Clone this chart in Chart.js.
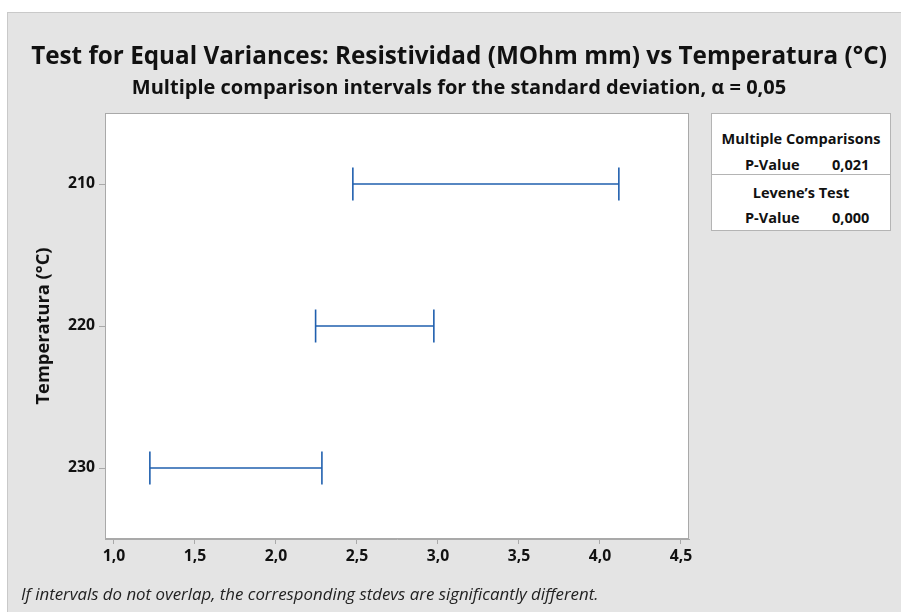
<!DOCTYPE html>
<html>
<head>
<meta charset="utf-8">
<script src="https://cdn.jsdelivr.net/npm/chart.js@4"></script>
<style>
  html, body { margin: 0; padding: 0; background: #fff; }
  body { width: 901px; height: 612px; position: relative; overflow: hidden; font-family: "Open Sans", sans-serif; }
  #panel { position: absolute; left: 7px; top: 12px; width: 894px; height: 600px; background: #e4e4e4;
           box-shadow: inset 1px 1px 0 #c9c9c9; }
  #chart { position: absolute; left: 0; top: 0; }
  #stats { position: absolute; left: 704px; top: 101px; width: 178px; height: 116px; background: #fff;
           border: 1px solid #b4b4b4; color: #111; font-weight: bold; }
  #stats .row { position: absolute; left: 0; width: 100%; text-align: center; white-space: nowrap; }
  #stats .sep { position: absolute; left: 0; width: 100%; height: 1px; background: #b4b4b4; }
  #stats .lbl, #stats .val { position: absolute; white-space: nowrap; }
  #note { position: absolute; left: 14px; font-style: italic; color: #222; white-space: nowrap; }
</style>
</head>
<body>
<div id="panel">
  <canvas id="chart" width="894" height="600"></canvas>
  <div id="stats"></div>
  <div id="note"></div>
</div>
<script>
// Test for equal variances: Bonferroni intervals of the stdev per temperature.
const TITLE = 'Test for Equal Variances: Resistividad (MOhm mm) vs Temperatura (°C)';
const SUBTITLE = 'Multiple comparison intervals for the standard deviation, α = 0,05';
const Y_TITLE = 'Temperatura (°C)';
const NOTE = 'If intervals do not overlap, the corresponding stdevs are significantly different.';

const temperatures = ['210', '220', '230'];
const lowerBounds = [2.475, 2.245, 1.222];
const upperBounds = [4.117, 2.975, 2.284];
const xTicks = [1.0, 1.5, 2.0, 2.5, 3.0, 3.5, 4.0, 4.5];

const statHeaders = ['Multiple Comparisons', 'Levene’s Test'];
const statLabels = ['P-Value', 'P-Value'];
const statValues = ['0,021', '0,000'];

const FAMILY = '"Open Sans", sans-serif';
const BLUE = '#1f5fae';
const AXIS_GREY = '#a9a9a9';

const measureCtx = document.createElement('canvas').getContext('2d');
function fitSize(text, style, target) {
  measureCtx.font = `${style} 100px ${FAMILY}`;
  return +(100 * target / measureCtx.measureText(text).width).toFixed(2);
}

const titleSize = fitSize(TITLE, 'bold', 856);
const subSize = fitSize(SUBTITLE, 'bold', 655);
const tickSize = fitSize('230', 'bold', 27);
const yTitleSize = fitSize(Y_TITLE, 'bold', 157);
const statSize = fitSize(statHeaders[0], 'bold', 159);
const noteSize = fitSize(NOTE, 'italic', 578);

// vertical placement (canvas coords): title centre 45, subtitle centre 76, plot top 101
const titlePadTop = 45 - 0.6 * titleSize;
const subPadTop = 76 - 0.6 * subSize - (45 + 0.6 * titleSize);
const subPadBottom = 101 - (76 + 0.6 * subSize);

const plotFrame = {
  id: 'plotFrame',
  beforeDraw(chart) {
    const { ctx, chartArea: a } = chart;
    ctx.save();
    ctx.fillStyle = '#fff';
    ctx.fillRect(a.left, a.top, a.right - a.left, a.bottom - a.top);
    ctx.restore();
  },
  afterDraw(chart) {
    const { ctx, chartArea: a } = chart;
    ctx.save();
    ctx.strokeStyle = AXIS_GREY;
    ctx.lineWidth = 1;
    ctx.strokeRect(Math.round(a.left) + 0.5, Math.round(a.top) + 0.5,
      Math.round(a.right - a.left) - 1, Math.round(a.bottom - a.top) - 1);
    ctx.restore();
  },
};

const datasets = temperatures.map((t, i) => ({
  label: t,
  data: [{ x: lowerBounds[i], y: t }, { x: upperBounds[i], y: t }],
  borderColor: BLUE,
  borderWidth: 1.4,
  pointStyle: 'line',
  pointRotation: 90,
  pointRadius: 16.5,
  pointHoverRadius: 16.5,
  pointBorderColor: BLUE,
  pointBorderWidth: 1.6,
  showLine: true,
}));

new Chart(document.getElementById('chart'), {
  type: 'line',
  data: { datasets },
  plugins: [plotFrame],
  options: {
    responsive: false,
    animation: false,
    layout: { padding: { left: 10, right: 0, top: 0, bottom: 0 } },
    scales: {
      x: {
        type: 'linear',
        min: 0.945,
        max: 4.55,
        afterBuildTicks: (s) => { s.ticks = xTicks.map((v) => ({ value: v })); },
        afterFit: (s) => { s.height = 73; },
        grid: { drawOnChartArea: false, drawTicks: true, tickLength: 5, tickColor: AXIS_GREY },
        border: { display: true, color: AXIS_GREY },
        ticks: {
          color: '#111',
          padding: 3,
          maxRotation: 0,
          font: { family: FAMILY, size: tickSize, weight: 'bold' },
          callback: (v) => Number(v).toFixed(1).replace('.', ','),
        },
      },
      y: {
        type: 'category',
        labels: temperatures,
        offset: true,
        afterFit: (s) => { s.width = 88; },
        grid: { drawOnChartArea: false, drawTicks: true, tickLength: 6, tickColor: AXIS_GREY, offset: false },
        border: { display: true, color: AXIS_GREY },
        ticks: { color: '#111', padding: 4, font: { family: FAMILY, size: tickSize, weight: 'bold' } },
        title: {
          display: true,
          text: Y_TITLE,
          color: '#111',
          padding: { top: 17 - 0.6 * yTitleSize + 10.2 - 0, bottom: 0 },
          font: { family: FAMILY, size: yTitleSize, weight: 'bold' },
        },
      },
      side: {
        type: 'linear',
        position: 'right',
        display: true,
        afterFit: (s) => { s.width = 212; },
        grid: { display: false },
        border: { display: false },
        ticks: { display: false },
      },
    },
    plugins: {
      legend: { display: false },
      tooltip: { enabled: false },
      title: {
        display: true,
        text: TITLE,
        color: '#111',
        font: { family: FAMILY, size: titleSize, weight: 'bold', lineHeight: 1.2 },
        padding: { top: titlePadTop, bottom: 0 },
      },
      subtitle: {
        display: true,
        text: SUBTITLE,
        color: '#111',
        font: { family: FAMILY, size: subSize, weight: 'bold', lineHeight: 1.2 },
        padding: { top: subPadTop, bottom: subPadBottom },
      },
    },
  },
});

// statistics box (panel coords; box spans page y 113..230)
const stats = document.getElementById('stats');
stats.style.fontSize = statSize + 'px';
const rowCentres = [24, 50, 78, 103];
const lineH = Math.round(statSize * 1.4);
function addRow(html, cls, centre) {
  const d = document.createElement('div');
  d.className = cls;
  d.style.top = (centre - lineH / 2) + 'px';
  d.style.lineHeight = lineH + 'px';
  d.innerHTML = html;
  stats.appendChild(d);
  return d;
}
statHeaders.forEach((h, i) => {
  addRow(h, 'row', rowCentres[i * 2]);
  const lbl = addRow(statLabels[i], 'lbl', rowCentres[i * 2 + 1]);
  lbl.style.left = '33px';
  const val = addRow(statValues[i], 'val', rowCentres[i * 2 + 1]);
  val.style.left = '120px';
});
const sep = document.createElement('div');
sep.className = 'sep';
sep.style.top = '60px';
stats.appendChild(sep);

const note = document.getElementById('note');
note.textContent = NOTE;
note.style.fontSize = noteSize + 'px';
note.style.lineHeight = '20px';
note.style.top = (582 - 10) + 'px';
</script>
</body>
</html>
